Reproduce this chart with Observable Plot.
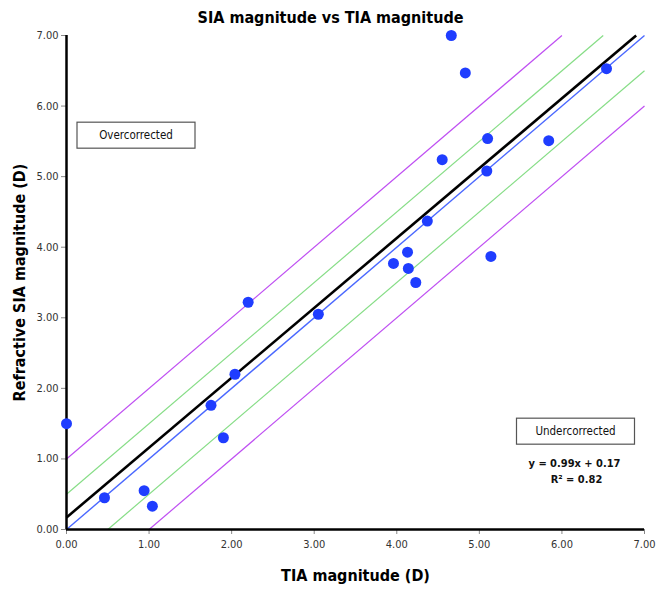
<!DOCTYPE html>
<html>
<head>
<meta charset="utf-8">
<script src="https://cdn.jsdelivr.net/npm/d3@7"></script>
<script src="https://cdn.jsdelivr.net/npm/@observablehq/plot@0.6"></script>
<style>
  html, body { margin: 0; padding: 0; background: #fff; }
</style>
</head>
<body>
<div id="chart"></div>
<script>
// Data
const tia = [0.00, 0.46, 0.94, 1.04, 1.75, 1.90, 2.04, 2.20, 3.05, 3.96, 4.13, 4.14, 4.23, 4.37, 4.55, 4.66, 4.83, 5.10, 5.09, 5.14, 5.84, 6.54];
const sia = [1.50, 0.45, 0.55, 0.33, 1.76, 1.30, 2.20, 3.22, 3.05, 3.77, 3.93, 3.70, 3.50, 4.37, 5.24, 7.00, 6.47, 5.54, 5.08, 3.87, 5.51, 6.53];
const axisTicks = [0, 1, 2, 3, 4, 5, 6, 7];
const bandOffsets = [1, 0.5, 0, -0.5, -1];
const bandNames = ["+1.00 D", "+0.50 D", "identity", "-0.50 D", "-1.00 D"];
const fitSlope = 0.99;
const fitIntercept = 0.17;
const fitLabel = "y = 0.99x + 0.17";
const r2Label = "R² = 0.82";

const lo = 0, hi = 7;
const points = tia.map((x, i) => ({x, y: sia[i]}));
const bands = bandOffsets.map((c, i) => ({
  name: bandNames[i], c,
  x1: Math.max(lo, lo - c), y1: Math.max(lo, lo + c),
  x2: Math.min(hi, hi - c), y2: Math.min(hi, hi + c)
}));
const fit = [{x1: lo, y1: fitIntercept, x2: (hi - fitIntercept) / fitSlope, y2: hi}];
const bandColor = c => Math.abs(c) === 1 ? "#bf4ff2" : Math.abs(c) === 0.5 ? "#86dd86" : "#4a68ff";

const font = "'DejaVu Sans Condensed', 'DejaVu Sans', sans-serif";
const center = {textAnchor: "middle", lineAnchor: "middle"};

const chart = Plot.plot({
  width: 658,
  height: 589,
  marginLeft: 66,
  marginRight: 14,
  marginTop: 35,
  marginBottom: 60,
  style: {fontFamily: font, background: "#fff"},
  x: {domain: [lo, hi]},
  y: {domain: [lo, hi]},
  marks: [
    Plot.link(bands, {x1: "x1", y1: "y1", x2: "x2", y2: "y2",
      stroke: d => bandColor(d.c), strokeWidth: d => d.c === 0 ? 1.4 : 1.2}),
    Plot.link(fit, {x1: "x1", y1: "y1", x2: "x2", y2: "y2", stroke: "#000", strokeWidth: 2.6}),
    Plot.axisX(axisTicks, {tickFormat: d3.format(".2f"), tickSize: 5, tickPadding: 6,
      fontSize: 11, fill: "#333", stroke: "#888", label: null}),
    Plot.axisY(axisTicks, {tickFormat: d3.format(".2f"), tickSize: 5, tickPadding: 3,
      fontSize: 11, fill: "#333", stroke: "#888", label: null}),
    Plot.ruleX([lo], {stroke: "#000", strokeWidth: 2.5}),
    Plot.ruleY([lo], {stroke: "#000", strokeWidth: 2.5}),
    Plot.dot(points, {x: "x", y: "y", r: 5.5, fill: "#1f3dff", stroke: "none"}),
    // annotations
    Plot.text(["Overcorrected"], {...center, frameAnchor: "top-left", dx: 69.5, dy: 100,
      fontSize: 11.5, fill: "#111", className: "boxed"}),
    Plot.text(["Undercorrected"], {...center, frameAnchor: "bottom-right", dx: -69, dy: -98,
      fontSize: 11.5, fill: "#111", className: "boxed"}),
    Plot.text([fitLabel], {...center, frameAnchor: "bottom-right", dx: -70, dy: -66,
      fontSize: 11, fontWeight: "bold", fill: "#111"}),
    Plot.text([r2Label], {...center, frameAnchor: "bottom-right", dx: -68, dy: -50,
      fontSize: 11, fontWeight: "bold", fill: "#111"}),
    // titles
    Plot.text(["SIA magnitude vs TIA magnitude"], {...center, frameAnchor: "top", dx: -25, dy: -18,
      fontSize: 16, fontWeight: "bold", fill: "#000"}),
    Plot.text(["TIA magnitude (D)"], {...center, frameAnchor: "bottom", dy: 46,
      fontSize: 16, fontWeight: "bold", fill: "#000"}),
    Plot.text(["Refractive SIA magnitude (D)"], {...center, frameAnchor: "left", dx: -47, rotate: -90,
      fontSize: 16, fontWeight: "bold", fill: "#000"})
  ]
});

document.getElementById("chart").appendChild(chart);

// draw boxes around boxed annotations
const boxW = 118, boxH = 26;
chart.querySelectorAll("g.boxed text").forEach(t => {
  const b = t.getBBox();
  const cx = b.x + b.width / 2, cy = b.y + b.height / 2;
  const rect = document.createElementNS("http://www.w3.org/2000/svg", "rect");
  rect.setAttribute("x", cx - boxW / 2);
  rect.setAttribute("y", cy - boxH / 2);
  rect.setAttribute("width", boxW);
  rect.setAttribute("height", boxH);
  rect.setAttribute("fill", "#fff");
  rect.setAttribute("stroke", "#555");
  rect.setAttribute("stroke-width", 1.2);
  const ctm = t.getAttribute("transform");
  if (ctm) rect.setAttribute("transform", ctm);
  t.parentNode.insertBefore(rect, t);
});
</script>
</body>
</html>
